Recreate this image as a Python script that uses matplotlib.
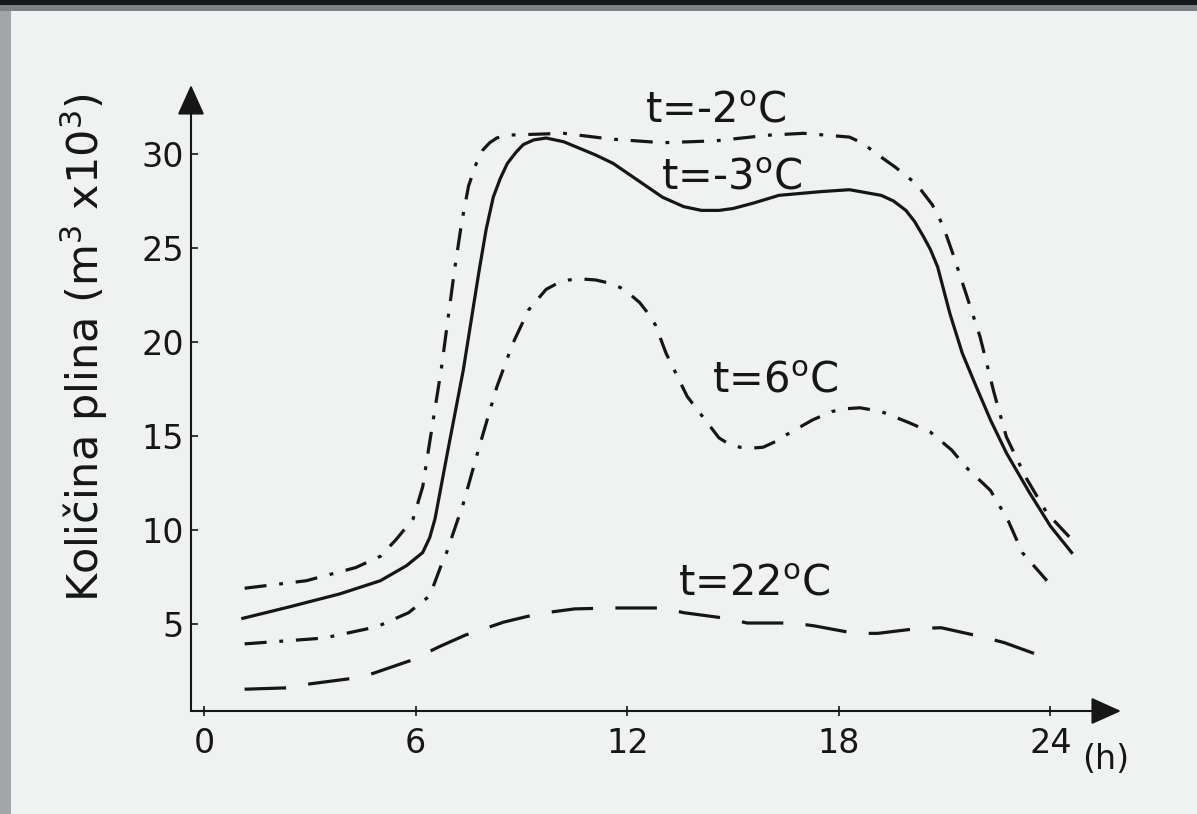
import matplotlib
matplotlib.use("Agg")
import matplotlib.pyplot as plt
from matplotlib.patches import Rectangle

plt.rcParams['font.family'] = ['DejaVu Sans']
plt.rcParams['mathtext.fontset'] = 'dejavusans'

# ---- data (hours, m3 x 10^3) ----
h_m3 = [1.1, 2.4, 3.85, 5.0, 5.74, 6.2, 6.4, 6.55, 6.9, 7.35, 7.8, 8.0, 8.2, 8.4, 8.6, 8.85,
        9.05, 9.35, 9.7, 10.2, 10.65, 11.1, 11.6, 12.3, 13.0, 13.6, 14.1, 14.6, 15.0, 15.6,
        16.3, 17.5, 18.3, 19.2, 19.55, 19.9, 20.15, 20.4, 20.6, 20.8, 21.15, 21.5, 21.9,
        22.3, 22.75, 23.4, 24.0, 24.6]
v_m3 = [5.3, 5.9, 6.6, 7.3, 8.1, 8.8, 9.6, 10.6, 14.1, 18.5, 23.8, 26.0, 27.7, 28.7, 29.5, 30.1,
        30.5, 30.75, 30.85, 30.65, 30.3, 29.95, 29.5, 28.6, 27.7, 27.2, 27.0, 27.0, 27.1, 27.4,
        27.8, 28.0, 28.1, 27.8, 27.5, 27.0, 26.4, 25.6, 24.9, 24.0, 21.5, 19.4, 17.6,
        15.85, 14.1, 12.0, 10.2, 8.8]

h_m2 = [1.15, 2.9, 4.3, 5.0, 5.45, 5.93, 6.2, 6.35, 6.73, 7.1, 7.3, 7.5, 7.72, 7.9, 8.1, 8.3,
        8.57, 10.2, 11.5, 13.0, 14.5, 16.0, 17.0, 18.3, 18.7, 19.0, 19.6, 20.2, 20.65,
        20.95, 21.25, 21.6, 22.0, 22.4, 22.75, 23.3, 23.9, 24.55]
v_m2 = [6.9, 7.3, 8.0, 8.6, 9.5, 10.6, 12.3, 14.1, 18.6, 23.8, 26.3, 28.3, 29.5, 30.2, 30.6, 30.85,
        31.0, 31.1, 30.8, 30.6, 30.7, 31.0, 31.1, 30.9, 30.55, 30.1, 29.3, 28.4, 27.3,
        26.2, 24.6, 22.6, 20.3, 17.3, 14.95, 12.8, 10.9, 9.6]

h_p6 = [1.15, 3.4, 4.9, 5.8, 6.4, 6.7, 6.87, 7.35, 7.8, 8.3, 8.75, 9.2, 9.7, 10.0, 10.35,
        10.7, 11.1, 11.45, 11.8, 12.1, 12.35, 12.6, 12.8, 13.1, 13.7, 14.15, 14.6, 14.9,
        15.2, 15.5, 15.85, 16.2, 16.5, 17.25, 17.8, 18.2, 18.6, 19.2, 20.0, 20.6, 21.2,
        21.6, 22.3, 22.8, 23.2, 23.9]
v_p6 = [3.94, 4.25, 4.85, 5.6, 6.5, 8.0, 8.76, 11.4, 14.4, 17.6, 19.9, 21.7, 22.8, 23.1, 23.3,
        23.35, 23.3, 23.15, 22.9, 22.5, 22.1, 21.5, 20.9, 19.4, 17.1, 16.0, 14.9, 14.55,
        14.4, 14.35, 14.4, 14.7, 15.05, 15.85, 16.3, 16.45, 16.5, 16.3, 15.7, 15.2, 14.25,
        13.35, 12.1, 10.5, 8.8, 7.3]

h_p22 = [1.15, 2.34, 2.95, 4.18, 4.79, 5.88, 6.68, 7.4, 8.5, 9.5, 10.5, 11.5, 13.0, 13.6,
         14.8, 15.4, 16.7, 17.3, 18.45, 19.1, 20.2, 20.9, 22.1, 22.7, 23.8]
v_p22 = [1.53, 1.6, 1.8, 2.1, 2.37, 3.07, 3.8, 4.4, 5.1, 5.55, 5.8, 5.85, 5.85, 5.6,
         5.3, 5.05, 5.05, 4.9, 4.5, 4.5, 4.75, 4.8, 4.3, 4.0, 3.25]

x_ticks = [0, 6, 12, 18, 24]
y_ticks = [5, 10, 15, 20, 25, 30]

labels = ['t=-2$^{\\mathrm{o}}$C', 't=-3$^{\\mathrm{o}}$C', 't=6$^{\\mathrm{o}}$C', 't=22$^{\\mathrm{o}}$C']
label_pos = [(14.5, 31.7), (14.96, 28.1), (16.2, 17.3), (15.6, 6.5)]

BG = '#f0f2f1'
INK = '#161616'

fig = plt.figure(figsize=(11.97, 8.14), dpi=100, facecolor=BG)
# scan edges
fig.patches.append(Rectangle((0, 0), 11/1197, 1, transform=fig.transFigure,
                             facecolor='#a3a5a9', edgecolor='none', zorder=0))
fig.patches.append(Rectangle((0, 1 - 11/814), 1, 11/814, transform=fig.transFigure,
                             facecolor='#7e8084', edgecolor='none', zorder=0))
fig.patches.append(Rectangle((0, 1 - 5/814), 1, 5/814, transform=fig.transFigure,
                             facecolor='#16171a', edgecolor='none', zorder=0))

ax = fig.add_axes([191/1197, 1 - 711/814, 930/1197, 626/814])
ax.set_facecolor('none')
ax.set_xlim(-0.37, 26.0)
ax.set_ylim(0.37, 33.67)

lw = 2.3
dashdot = (0, (6.9, 4.0, 1.2, 4.0))
common = dict(color=INK, lw=lw, solid_joinstyle='round', dash_joinstyle='round')
ax.plot(h_m2, v_m2, linestyle=dashdot, **common)
ax.plot(h_m3, v_m3, linestyle='-', **common)
ax.plot(h_p6, v_p6, linestyle=dashdot, **common)
ax.plot(h_p22, v_p22, linestyle=(0, (13, 7)), **common)

for txt, (xx, yy) in zip(labels, label_pos):
    ax.text(xx, yy, txt, fontsize=30, color=INK, ha='center', va='baseline')

for s in ax.spines.values():
    s.set_visible(False)
arrow_kw = dict(arrowstyle='-|>,head_length=1.0,head_width=0.45', color=INK, lw=1.5,
                shrinkA=0, shrinkB=0, mutation_scale=18.7)
ax.annotate('', xy=(1, 0), xytext=(0, 0), xycoords='axes fraction',
            textcoords='axes fraction', arrowprops=arrow_kw, annotation_clip=False)
ax.annotate('', xy=(0, 1), xytext=(0, 0), xycoords='axes fraction',
            textcoords='axes fraction', arrowprops=arrow_kw, annotation_clip=False)

ax.set_xticks(x_ticks)
ax.set_xticklabels([str(t) for t in x_ticks])
ax.set_yticks(y_ticks)
ax.set_yticklabels([str(t) for t in y_ticks])
ax.tick_params(axis='x', direction='inout', length=7, width=1.2, color=INK,
               labelsize=24, labelcolor=INK, pad=8)
ax.tick_params(axis='y', direction='in', length=5, width=1.2, color=INK,
               labelsize=24, labelcolor=INK, pad=5)

ax.set_ylabel('Količina plina (m$^{3}$ x10$^{3}$)', fontsize=31, color=INK)
ax.yaxis.set_label_coords(-0.087, 0.58)
ax.text(25.56, -2.2, '(h)', fontsize=24, color=INK, ha='center', va='center', clip_on=False)

fig.savefig('out.png', dpi=100, facecolor=BG)
